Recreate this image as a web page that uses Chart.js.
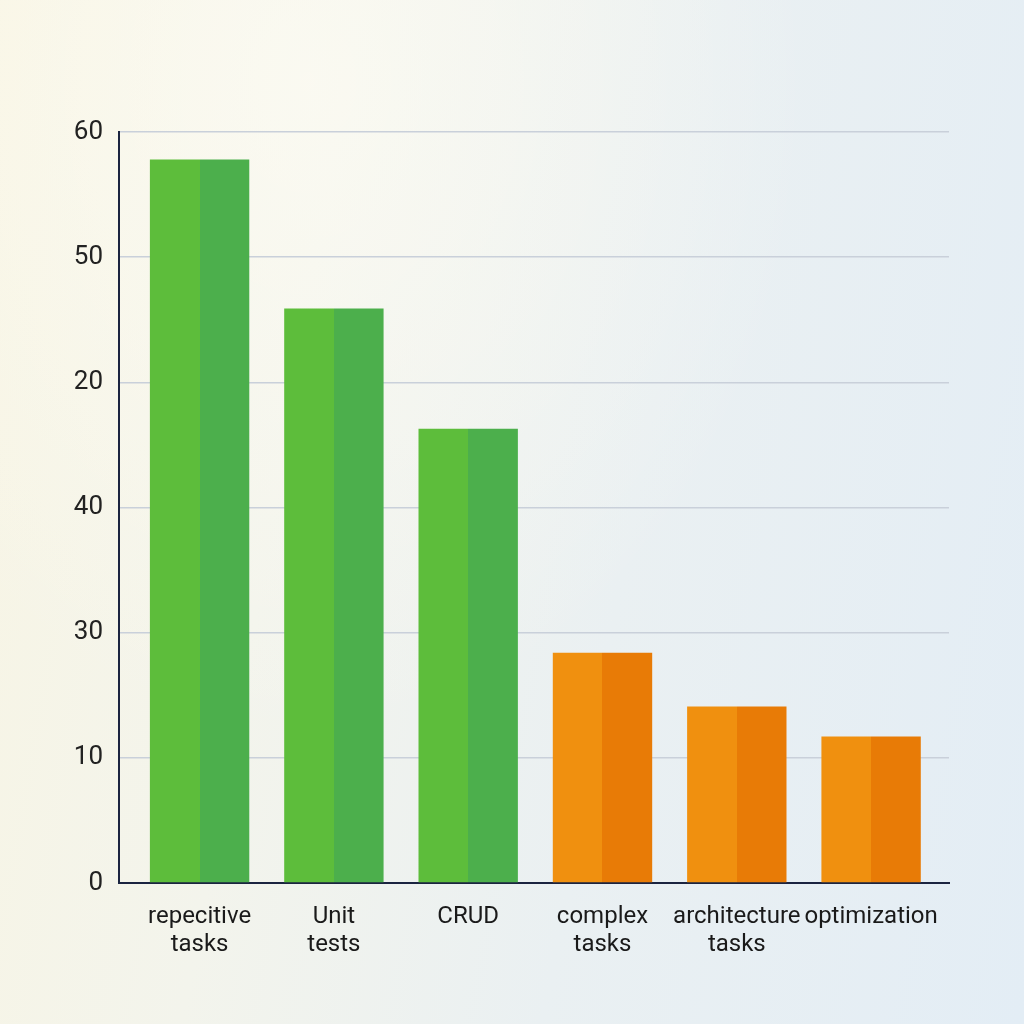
<!DOCTYPE html>
<html>
<head>
<meta charset="utf-8">
<script src="https://cdn.jsdelivr.net/npm/chart.js@4/dist/chart.umd.min.js"></script>
<style>
  html, body { margin: 0; padding: 0; width: 1024px; height: 1024px; overflow: hidden; }
  body {
    background:
      radial-gradient(ellipse at 30% 8%, rgba(255,253,245,0.6) 0%, rgba(255,255,255,0) 50%),
      linear-gradient(100deg, #f8f5e4 0%, #f3f4ec 30%, #eaf0f2 60%, #e3edf5 100%);
  }
  #wrap { position: absolute; left: 0; top: 0; width: 1024px; height: 1024px; }
</style>
</head>
<body>
<div id="wrap"><canvas id="c" width="1024" height="1024"></canvas></div>
<script>
const categories = [["repecitive", "tasks"], ["Unit", "tests"], "CRUD", ["complex", "tasks"], ["architecture", "tasks"], "optimization"];
const values = [57.8, 45.9, 36.3, 18.4, 14.1, 11.7];
const yTickLabels = ["0", "10", "30", "40", "20", "50", "60"];
const leftColors = ["#5dbd3b", "#5dbd3b", "#5dbd3b", "#f0900f", "#f0900f", "#f0900f"];
const rightColors = ["#4caf4c", "#4caf4c", "#4caf4c", "#e87b06", "#e87b06", "#e87b06"];

const points = values.map((v, i) => ({ x: i, y: v }));

function twoTone(ctx) {
  const chart = ctx.chart;
  const i = ctx.dataIndex;
  if (!chart.chartArea || !chart.scales.x) return leftColors[i];
  const cx = chart.scales.x.getPixelForValue(i);
  const g = chart.ctx.createLinearGradient(cx - 60, 0, cx + 60, 0);
  g.addColorStop(0, leftColors[i]);
  g.addColorStop(0.5, leftColors[i]);
  g.addColorStop(0.5, rightColors[i]);
  g.addColorStop(1, rightColors[i]);
  return g;
}

new Chart(document.getElementById('c'), {
  type: 'bar',
  data: {
    datasets: [{
      data: points,
      backgroundColor: twoTone,
      borderWidth: 0,
      categoryPercentage: 1,
      barPercentage: 0.74
    }]
  },
  options: {
    responsive: false,
    animation: false,
    devicePixelRatio: 1,
    layout: { padding: { left: 0, right: 75, top: 132, bottom: 0 } },
    plugins: { legend: { display: false }, tooltip: { enabled: false } },
    scales: {
      x: {
        type: 'linear',
        min: -0.6,
        max: 5.58,
        offset: false,
        grid: { display: false, drawTicks: false, offset: false },
        border: { display: true, color: '#1b2440', width: 2 },
        afterFit: (s) => { s.height = 141; },
        ticks: {
          stepSize: 1,
          includeBounds: false,
          autoSkip: false,
          maxRotation: 0,
          padding: 20,
          color: '#1a1a1a',
          font: { family: 'Roboto', size: 24, lineHeight: 1.17 },
          callback: (v) => Number.isInteger(v) && v >= 0 && v < categories.length ? categories[v] : ''
        }
      },
      y: {
        min: 0,
        max: 60,
        grid: { color: '#c9d0da', lineWidth: 1.5, drawTicks: false },
        border: { display: true, color: '#1b2440', width: 2 },
        afterFit: (s) => { s.width = 119; },
        ticks: {
          stepSize: 10,
          padding: 16,
          color: '#222222',
          font: { family: 'Roboto', size: 26 },
          callback: (v) => yTickLabels[Math.round(v / 10)]
        }
      }
    }
  }
});
</script>
</body>
</html>
